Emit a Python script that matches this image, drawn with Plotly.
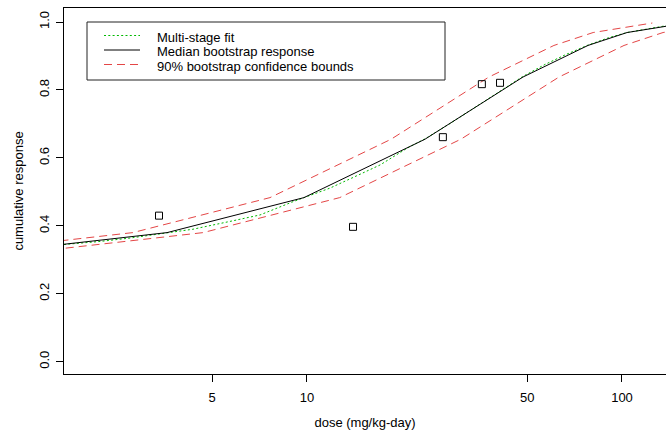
import plotly.graph_objects as go

# ---------------- data ----------------
obs_dose = [3.39, 14.0, 27.0, 35.9, 41.0]
obs_resp = [0.430, 0.397, 0.661, 0.817, 0.821]

fit_dose = [1.693, 2.203, 2.743, 3.594, 4.346, 5.696, 7.094, 9.027, 9.783, 11.83,
            14.21, 17.05, 20.92, 23.70, 28.44, 34.15, 41.01, 48.51, 56.96, 65.92,
            77.99, 90.28, 103.7, 122.7, 137.9, 164.4]
fit_resp = [0.345, 0.354, 0.364, 0.379, 0.390, 0.413, 0.432, 0.471, 0.483, 0.511,
            0.545, 0.579, 0.630, 0.656, 0.701, 0.749, 0.797, 0.840, 0.875, 0.903,
            0.932, 0.953, 0.969, 0.982, 0.989, 0.997]

med_dose = [1.20, 3.594, 9.78, 23.7, 48.5, 78.0, 103.8, 160.0]
med_resp = [0.330, 0.380, 0.483, 0.655, 0.838, 0.931, 0.969, 0.997]

up_dose = [0.936, 2.80, 7.63, 18.5, 37.8, 60.8, 81.0, 124.8]
up_resp = [0.330, 0.380, 0.483, 0.655, 0.838, 0.931, 0.969, 0.997]

lo_dose = [1.56, 4.68, 12.7, 30.8, 63.1, 101.5, 135.0, 208.0]
lo_resp = [0.330, 0.380, 0.483, 0.655, 0.838, 0.931, 0.969, 0.997]

x_ticks = [5, 10, 50, 100]
x_tick_labels = ["5", "10", "50", "100"]
y_ticks = [0.0, 0.2, 0.4, 0.6, 0.8, 1.0]
y_tick_labels = ["0.0", "0.2", "0.4", "0.6", "0.8", "1.0"]

legend_labels = ["Multi-stage fit", "Median bootstrap response",
                 "90% bootstrap confidence bounds"]

# ---------------- styles ----------------
FONT = "Liberation Sans, Arial, Helvetica, sans-serif"
GREEN = "rgb(0,185,0)"
RED = "rgb(228,70,70)"
BLACK = "black"
GREEN_DASH = "2px,2.3px"
RED_DASH = "8px,5px"

W, H = 666, 435
L, R, T, B = 64, 0, 8, 61
PW, PH = W - L - R, H - T - B


def px(x):
    return (x - L) / PW


def py(y):
    return (H - B - y) / PH


fig = go.Figure()
fig.add_trace(go.Scatter(x=up_dose, y=up_resp, mode="lines", name=legend_labels[2],
                         line=dict(color=RED, width=1, dash=RED_DASH)))
fig.add_trace(go.Scatter(x=lo_dose, y=lo_resp, mode="lines", name=legend_labels[2],
                         line=dict(color=RED, width=1, dash=RED_DASH)))
fig.add_trace(go.Scatter(x=fit_dose, y=fit_resp, mode="lines", name=legend_labels[0],
                         line=dict(color=GREEN, width=1, dash=GREEN_DASH)))
fig.add_trace(go.Scatter(x=med_dose, y=med_resp, mode="lines", name=legend_labels[1],
                         line=dict(color=BLACK, width=1)))
fig.add_trace(go.Scatter(x=obs_dose, y=obs_resp, mode="markers", name="observed",
                         marker=dict(symbol="square-open", size=7, color=BLACK,
                                     line=dict(width=1, color=BLACK))))

# ---------------- manual legend (R style box) ----------------
shapes = [dict(type="rect", xref="paper", yref="paper",
               x0=px(87), x1=px(445), y0=py(80), y1=py(22),
               line=dict(color="#222", width=1), fillcolor="white", layer="above")]
row_line_y = [35.5, 50.0, 64.5]
row_styles = [dict(color=GREEN, width=1, dash=GREEN_DASH),
              dict(color=BLACK, width=1),
              dict(color=RED, width=1, dash=RED_DASH)]
annotations = []
for lbl, yl, st in zip(legend_labels, row_line_y, row_styles):
    shapes.append(dict(type="line", xref="paper", yref="paper",
                       x0=px(104), x1=px(140), y0=py(yl), y1=py(yl),
                       line=st, layer="above"))
    annotations.append(dict(text=lbl, xref="paper", yref="paper",
                            x=px(155), y=py(yl + 1.8), xanchor="left", yanchor="middle",
                            showarrow=False, font=dict(family=FONT, size=13, color="black")))

fig.update_layout(
    width=W, height=H,
    margin=dict(l=L, r=R, t=T, b=B),
    paper_bgcolor="white", plot_bgcolor="white",
    showlegend=False,
    font=dict(family=FONT, size=13, color="black"),
    shapes=shapes, annotations=annotations,
    xaxis=dict(type="log", range=[0.2286, 2.1397],
               tickmode="array", tickvals=x_ticks, ticktext=x_tick_labels,
               ticks="outside", ticklen=7, tickcolor="black", tickwidth=1,
               showline=True, linecolor="black", linewidth=1, mirror=True,
               showgrid=False, zeroline=False,
               title=dict(text="dose (mg/kg-day)", standoff=14,
                          font=dict(family=FONT, size=13)),
               ticklabelstandoff=4),
    yaxis=dict(range=[-0.0362, 1.0412],
               tickmode="array", tickvals=y_ticks, ticktext=y_tick_labels,
               tickangle=-90,
               ticks="outside", ticklen=7, tickcolor="black", tickwidth=1,
               showline=True, linecolor="black", linewidth=1,
               showgrid=False, zeroline=False,
               title=dict(text="cumulative response", standoff=10,
                          font=dict(family=FONT, size=13)),
               ticklabelstandoff=2),
)

fig.write_html("out.html")
